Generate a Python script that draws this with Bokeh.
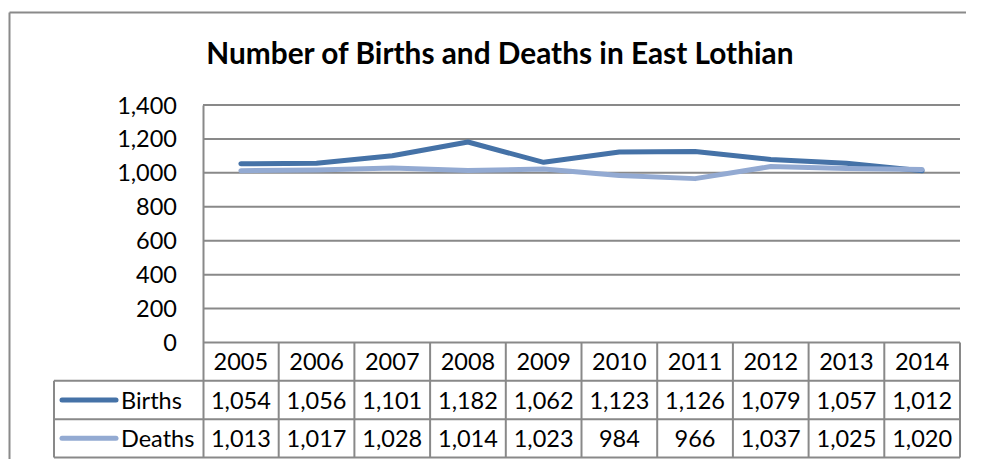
from bokeh.plotting import figure
from bokeh.models import Range1d, FixedTicker, ColumnDataSource, NumeralTickFormatter
from bokeh.core.properties import value
from bokeh.embed import file_html
from bokeh.resources import INLINE

# ---------------- data ----------------
years = ["2005", "2006", "2007", "2008", "2009", "2010", "2011", "2012", "2013", "2014"]
births = [1054, 1056, 1101, 1182, 1062, 1123, 1126, 1079, 1057, 1012]
deaths = [1013, 1017, 1028, 1014, 1023, 984, 966, 1037, 1025, 1020]
series_names = ["Births", "Deaths"]
series_colors = ["#4572A7", "#93AAD2"]
y_ticks = [0, 200, 400, 600, 800, 1000, 1200, 1400]
title_text = "Number of Births and Deaths in East Lothian"

# ---------------- layout (canvas pixels) ----------------
W, H = 966, 459
PLOT_L, PLOT_R = 202.5, 959.5
Y_TOP_PX, Y0_PX = 104.5, 342
LEG_L = 53.5
TABLE_BOTTOM = 457
ROW_PX = (TABLE_BOTTOM - Y0_PX) / 3
BORDER_X, BORDER_Y = 9, 12
TITLE_CX, TITLE_CY = 500, 52
FONT = "Lato"
FS = "23.5px"
GRID = "#898989"

n = len(years)
col_w = (PLOT_R - PLOT_L) / n
upx = y_ticks[-1] / (Y0_PX - Y_TOP_PX)


def xd(px):
    return 0.5 + (px - PLOT_L) / col_w


def yd(py):
    return (Y0_PX - py) * upx


ROW = ROW_PX * upx
leg_left = xd(LEG_L)

p = figure(width=W, height=H, x_range=Range1d(xd(0), xd(W)), y_range=Range1d(yd(H), yd(0)),
           output_backend="svg", toolbar_location=None, x_axis_location=None,
           min_border_left=0, min_border_right=0, min_border_top=0, min_border_bottom=0)
p.outline_line_color = None
p.xgrid.visible = False
p.ygrid.visible = False
p.background_fill_color = "white"
p.border_fill_color = "white"

ax = p.yaxis[0]
ax.ticker = FixedTicker(ticks=y_ticks)
ax.formatter = NumeralTickFormatter(format="0,0")
ax.fixed_location = 0.5
ax.bounds = (-3 * ROW, y_ticks[-1])
ax.major_tick_out = 0
ax.major_tick_in = 0
ax.minor_tick_out = 0
ax.minor_tick_in = 0
ax.axis_line_color = GRID
ax.axis_line_width = 2
ax.major_label_standoff = 26
ax.major_label_text_font = FONT
ax.major_label_text_font_size = FS
ax.major_label_text_color = "black"

xs = [i + 1 for i in range(n)]

# outer chart border (left + top visible)
p.segment(x0=[xd(BORDER_X), xd(BORDER_X)], x1=[xd(BORDER_X), xd(W + 5)],
          y0=[yd(BORDER_Y), yd(BORDER_Y)], y1=[yd(H + 5), yd(BORDER_Y)],
          line_color="#8A8A8A", line_width=2)

# title
p.text(x=[xd(TITLE_CX)], y=[yd(TITLE_CY)], text=[title_text], text_font=value(FONT),
       text_font_size="29.8px", text_font_style="bold", text_align="center",
       text_baseline="middle", text_color="black")

# gridlines
p.segment(x0=[0.5] * len(y_ticks), x1=[n + 0.5] * len(y_ticks), y0=y_ticks, y1=y_ticks,
          line_color=GRID, line_width=2)

# table lines
hy = [-ROW, -2 * ROW, -3 * ROW]
p.segment(x0=[leg_left] * 3, x1=[n + 0.5] * 3, y0=hy, y1=hy, line_color=GRID, line_width=2)
vx = [0.5 + i for i in range(1, n + 1)]
p.segment(x0=vx, x1=vx, y0=[0] * n, y1=[-3 * ROW] * n, line_color=GRID, line_width=2)
p.segment(x0=[leg_left], x1=[leg_left], y0=[-ROW], y1=[-3 * ROW], line_color=GRID, line_width=2)

# series lines
for vals, c in zip([births, deaths], series_colors):
    p.line(xs, vals, line_width=5, line_color=c, line_join="round", line_cap="round")

# table texts
src_years = ColumnDataSource(dict(x=xs, y=[-ROW / 2] * n, t=years))
p.text(x="x", y="y", text="t", source=src_years, text_font=value(FONT), text_font_size=FS,
       text_align="center", text_baseline="middle", text_color="black")
for k, vals in enumerate([births, deaths]):
    src = ColumnDataSource(dict(x=xs, y=[-(k + 1.5) * ROW] * n, t=[f"{v:,}" for v in vals]))
    p.text(x="x", y="y", text="t", source=src, text_font=value(FONT), text_font_size=FS,
           text_align="center", text_baseline="middle", text_color="black")

# legend keys inside the table
for k, (name, c) in enumerate(zip(series_names, series_colors)):
    yy = -(k + 1.5) * ROW
    p.line([xd(LEG_L + 8), xd(LEG_L + 62)], [yy, yy], line_width=5, line_color=c, line_cap="round")
    p.text(x=[xd(LEG_L + 67)], y=[yy], text=[name], text_font=value(FONT), text_font_size=FS,
           text_align="left", text_baseline="middle", text_color="black")

open("out.html", "w").write(file_html(p, INLINE))
